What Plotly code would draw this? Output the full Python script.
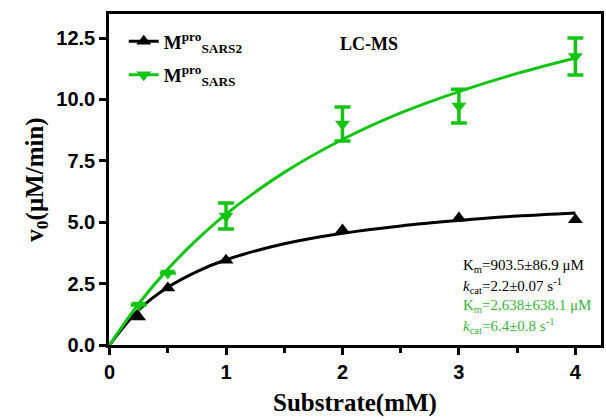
import plotly.graph_objects as go

# Measured data points
substrate = [0.25, 0.5, 1, 2, 3, 4]
v_sars2 = [1.14, 2.32, 3.45, 4.68, 5.17, 5.10]
v_sars = [1.63, 2.93, 5.25, 9.0, 9.73, 11.75]
err_sars = [0.0, 0.0, 0.53, 0.69, 0.69, 0.75]

# Fitted curves
fit_x = [0, 0.25, 0.5, 0.75, 1, 1.5, 2, 2.5, 3, 3.5, 4]
fit_sars2 = [0, 1.43, 2.35, 2.99, 3.47, 4.12, 4.55, 4.85, 5.07, 5.25, 5.38]
fit_sars = [0, 1.68, 3.09, 4.29, 5.33, 7.03, 8.37, 9.45, 10.32, 11.06, 11.69]

x_ticks = [0, 1, 2, 3, 4]
y_ticks = [0, 2.5, 5, 7.5, 10, 12.5]
y_ticklabels = ["0.0", "2.5", "5.0", "7.5", "10.0", "12.5"]

BLACK = "#000000"
GREEN = "#14c414"
GREEN_TXT = "#3cb33c"
SERIF = "Liberation Serif"
SANS = "Liberation Sans"

fig = go.Figure()

# fitted curves
fig.add_trace(go.Scatter(x=fit_x, y=fit_sars2, mode="lines", line=dict(color=BLACK, width=3, shape="spline"),
                         showlegend=False, hoverinfo="skip"))
fig.add_trace(go.Scatter(x=fit_x, y=fit_sars, mode="lines", line=dict(color=GREEN, width=3, shape="spline"),
                         showlegend=False, hoverinfo="skip"))

# data points
fig.add_trace(go.Scatter(x=substrate, y=v_sars2, mode="markers",
                         marker=dict(symbol="triangle-up", size=13, color=BLACK),
                         showlegend=False))
fig.add_trace(go.Scatter(x=substrate, y=v_sars, mode="markers",
                         marker=dict(symbol="triangle-down", size=13, color=GREEN),
                         error_y=dict(type="data", array=err_sars, visible=True, color=GREEN, thickness=3.5, width=8),
                         showlegend=False))

# legend entries
fig.add_trace(go.Scatter(x=[None], y=[None], mode="lines+markers", name="M<sup>pro</sup><sub>SARS2</sub>",
                         legendgroup="a", line=dict(color=BLACK, width=3),
                         marker=dict(symbol="triangle-up", size=13, color=BLACK)))
fig.add_trace(go.Scatter(x=[None], y=[None], mode="lines+markers", name="M<sup>pro</sup><sub>SARS</sub>",
                         legendgroup="b", line=dict(color=GREEN, width=3),
                         marker=dict(symbol="triangle-down", size=13, color=GREEN)))

axis_common = dict(showline=True, linecolor=BLACK, linewidth=2.5, mirror=True, ticks="outside",
                   tickwidth=2.5, ticklen=7, tickcolor=BLACK, showgrid=False, zeroline=False,
                   tickfont=dict(family=SANS, size=20, color=BLACK, weight="bold"))

fig.update_layout(
    width=606, height=420,
    margin=dict(l=109, r=2, t=14, b=75),
    paper_bgcolor="white", plot_bgcolor="white",
    xaxis=dict(range=[-0.005, 4.22], tickvals=x_ticks,
               minor=dict(ticks="outside", dtick=0.5, tick0=0, ticklen=5, tickwidth=2.5, tickcolor=BLACK),
               title=dict(text="Substrate(mM)", font=dict(family=SERIF, size=25, color=BLACK, weight="bold"),
                          standoff=12),
               **axis_common),
    yaxis=dict(range=[0, 13.48], tickvals=y_ticks, ticktext=y_ticklabels,
               title=dict(text="v<sub>0</sub>(μM/min)", font=dict(family=SERIF, size=25, color=BLACK, weight="bold"),
                          standoff=6),
               **axis_common),
    legend=dict(x=0.03, y=0.975, xanchor="left", yanchor="top", bgcolor="rgba(0,0,0,0)",
                font=dict(family=SERIF, size=19, color=BLACK, weight="bold"), tracegroupgap=6),
    showlegend=True,
)

fig.add_annotation(xref="paper", yref="paper", x=0.529, y=0.946, text="<b>LC-MS</b>", showarrow=False,
                   font=dict(family=SERIF, size=18, color=BLACK))

notes = [
    ("K<sub>m</sub>=903.5±86.9 μM", BLACK),
    ("<i>k</i><sub>cat</sub>=2.2±0.07 s<sup>-1</sup>", BLACK),
    ("K<sub>m</sub>=2,638±638.1 μM", GREEN_TXT),
    ("<i>k</i><sub>cat</sub>=6.4±0.8 s<sup>-1</sup>", GREEN_TXT),
]
ys = [266, 286, 306, 326]
for (t, c), yp in zip(notes, ys):
    fig.add_annotation(xref="paper", yref="paper", x=(463 - 109) / 495, y=(345 - yp) / 331, text=t,
                       showarrow=False, xanchor="left", yanchor="middle",
                       font=dict(family=SERIF, size=15, color=c))

fig.write_html("out.html")
